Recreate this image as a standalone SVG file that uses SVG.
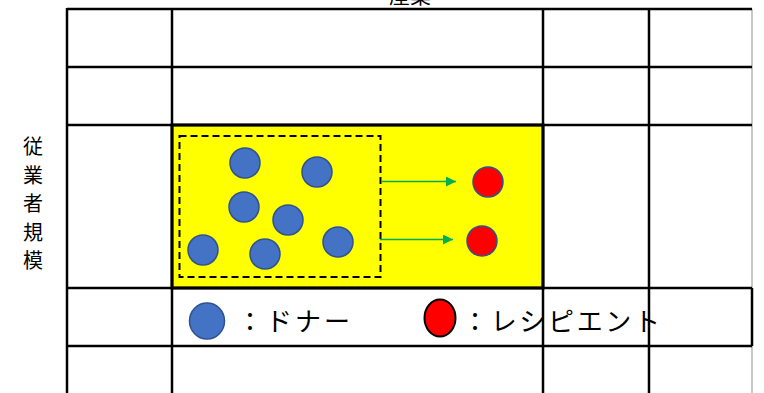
<svg xmlns="http://www.w3.org/2000/svg" width="764" height="393" viewBox="0 0 764 393">
<defs>
<style>
.g{stroke:#000;stroke-width:2.5;fill:none}
.gl{stroke:#c8c8c8;stroke-width:2;fill:none}
.d{fill:#4472C4;stroke:#2F528F;stroke-width:1.5}
.r{fill:#FF0000;stroke:#2F528F;stroke-width:1.5}
.a{stroke:#00B050;stroke-width:1.3;fill:none}
.lab{font-family:"Noto Sans CJK JP","Noto Sans",sans-serif;fill:#000}
</style>
<marker id="ah" viewBox="0 0 10 10" refX="10" refY="5" markerWidth="10" markerHeight="10" markerUnits="userSpaceOnUse" orient="auto">
<path d="M0,0 L10,5 L0,10 Z" fill="#00B050"/>
</marker>
</defs>
<rect width="764" height="393" fill="#fff"/>
<g id="industry-label"><text class="lab" x="410" y="3" font-size="21" text-anchor="middle">産業</text></g>
<g id="employee-label" class="lab" font-size="20" text-anchor="middle">
<text x="33" y="154">従</text>
<text x="33" y="183">業</text>
<text x="33" y="211">者</text>
<text x="33" y="240">規</text>
<text x="33" y="268">模</text>
</g>
<g id="highlight-cell"><rect x="172" y="125" width="371" height="163" fill="#FFFF00"/></g>
<g id="grid">
<line class="gl" x1="752" y1="9" x2="752" y2="288"/>
<line class="gl" x1="752" y1="346" x2="752" y2="393"/>
<line class="g" x1="67" y1="9" x2="752" y2="9"/>
<line class="g" x1="67" y1="67" x2="752" y2="67"/>
<line class="g" x1="67" y1="125" x2="752" y2="125"/>
<line class="g" x1="67" y1="288" x2="752" y2="288"/>
<line class="g" x1="67" y1="346" x2="752" y2="346"/>
<line class="g" x1="67" y1="8" x2="67" y2="393"/>
<line class="g" x1="172" y1="8" x2="172" y2="393"/>
<line class="g" x1="543" y1="8" x2="543" y2="393"/>
<line class="g" x1="649" y1="8" x2="649" y2="393"/>
<line class="g" x1="752" y1="288" x2="752" y2="346"/>
<rect x="172" y="125" width="371" height="163" fill="none" stroke="#000" stroke-width="3"/>
</g>
<g id="donor-group"><rect x="179.5" y="136" width="201" height="141" fill="none" stroke="#000" stroke-width="2" stroke-dasharray="7,4"/></g>
<g id="donors">
<circle class="d" cx="245" cy="163" r="15"/>
<circle class="d" cx="317" cy="172" r="15"/>
<circle class="d" cx="244" cy="207" r="15"/>
<circle class="d" cx="288" cy="220" r="15"/>
<circle class="d" cx="203" cy="250" r="15"/>
<circle class="d" cx="265" cy="254" r="15"/>
<circle class="d" cx="338" cy="242" r="15"/>
</g>
<g id="recipients">
<circle class="r" cx="488" cy="182" r="15"/>
<circle class="r" cx="482" cy="241" r="15"/>
</g>
<g id="connectors">
<line class="a" x1="382" y1="181.5" x2="456" y2="181.5" marker-end="url(#ah)"/>
<line class="a" x1="380" y1="239.5" x2="453" y2="239.5" marker-end="url(#ah)"/>
</g>
<g id="legend">
<ellipse cx="207" cy="321" rx="17.5" ry="18" fill="#4472C4" stroke="#2F528F" stroke-width="1.5"/>
<text class="lab" x="237" y="331" font-size="26" textLength="113" lengthAdjust="spacing">：ドナー</text>
<ellipse cx="440" cy="318" rx="15.5" ry="18.5" fill="#FF0000" stroke="#000" stroke-width="2"/>
<text class="lab" x="462" y="331" font-size="26" textLength="198" lengthAdjust="spacing">：レシピエント</text>
</g>
</svg>
